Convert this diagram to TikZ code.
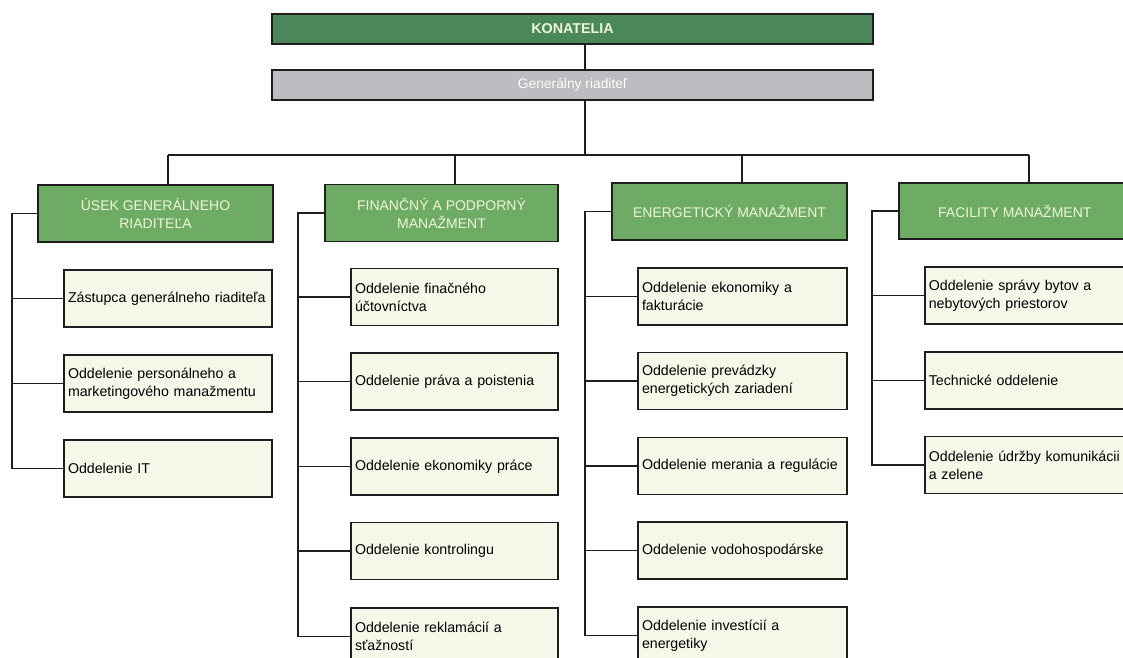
\documentclass[tikz,border=0pt]{standalone}
\usepackage{fontspec}
\setmainfont{Liberation Sans}
\definecolor{kongreen}{RGB}{74,136,92}
\definecolor{hdgreen}{RGB}{110,172,102}
\definecolor{gengray}{RGB}{188,188,193}
\definecolor{childfill}{RGB}{246,247,233}
\definecolor{hdtext}{RGB}{238,246,214}
\definecolor{linec}{RGB}{30,30,30}
\tikzset{
  topbox/.style={draw=linec, line width=1.6pt, minimum height=30, minimum width=601, inner sep=0pt},
  hdbox/.style={draw=linec, line width=1.6pt, fill=hdgreen, text=hdtext, minimum height=57, inner sep=0pt, align=center, font=\fontsize{14}{18}\selectfont},
  chbox/.style={draw=linec, line width=1.6pt, fill=childfill, text=black, minimum height=57, inner xsep=4pt, inner ysep=0pt, align=left, font=\fontsize{14.2}{18}\selectfont},
  conn/.style={draw=linec, line width=1.6pt}
}
\begin{document}
\begin{tikzpicture}[x=1pt,y=-1pt]
\clip (0,0) rectangle (1123,657);
\fill[white] (0,0) rectangle (1123,657);
% top boxes
\node[topbox, fill=kongreen, text=hdtext, font=\fontsize{14.3}{16}\bfseries\selectfont] (kon) at (572.5,29) {KONATELIA};
\node[topbox, fill=gengray, text=white, font=\fontsize{13.8}{16}\selectfont] (gen) at (572.5,85) {Generálny riaditeľ};
\coordinate (spine) at (585,0);
\coordinate (b1) at (168,155);
\coordinate (b2) at (455,155);
\coordinate (b3) at (742,155);
\coordinate (b4) at (1029,155);
% group headers
\node[hdbox, minimum width=235] (uh) at (155.5,213.5) {ÚSEK GENERÁLNEHO\\RIADITEĽA};
\node[hdbox, minimum width=233] (fh) at (441.5,213) {FINANČNÝ A PODPORNÝ\\MANAŽMENT};
\node[hdbox, minimum width=235] (eh) at (729.5,211.5) {ENERGETICKÝ MANAŽMENT};
\node[hdbox, minimum width=240, minimum height=56, anchor=west] (ch) at (898,211) {\hspace*{-8pt}FACILITY MANAŽMENT};
% Usek children
\node[chbox, minimum width=208, text width=200] (u1) at (168,298.5) {Zástupca generálneho riaditeľa};
\node[chbox, minimum width=208, text width=200] (u2) at (168,383.5) {Oddelenie personálneho a\\marketingového manažmentu};
\node[chbox, minimum width=208, text width=200] (u3) at (168,468.5) {Oddelenie IT};
% Financny children
\node[chbox, minimum width=207, text width=199] (f1) at (454.5,297) {Oddelenie finačného\\účtovníctva};
\node[chbox, minimum width=207, text width=199] (f2) at (454.5,381.5) {Oddelenie práva a poistenia};
\node[chbox, minimum width=207, text width=199] (f3) at (454.5,466.5) {Oddelenie ekonomiky práce};
\node[chbox, minimum width=207, text width=199] (f4) at (454.5,551) {Oddelenie kontrolingu};
\node[chbox, minimum width=207, text width=199] (f5) at (454.5,636.5) {Oddelenie reklamácií a\\sťažností};
% Energeticky children
\node[chbox, minimum width=209, text width=201] (e1) at (742.5,296.5) {Oddelenie ekonomiky a\\fakturácie};
\node[chbox, minimum width=209, text width=201] (e2) at (742.5,381) {Oddelenie prevádzky\\energetických zariadení};
\node[chbox, minimum width=209, text width=201] (e3) at (742.5,466) {Oddelenie merania a regulácie};
\node[chbox, minimum width=209, text width=201] (e4) at (742.5,550.5) {Oddelenie vodohospodárske};
\node[chbox, minimum width=209, text width=201] (e5) at (742.5,635.5) {Oddelenie investícií a\\energetiky};
% Facility children
\node[chbox, minimum width=230, text width=222, anchor=west] (c1) at (924,295.5) {Oddelenie správy bytov a\\nebytových priestorov};
\node[chbox, minimum width=230, text width=222, anchor=west] (c2) at (924,380.5) {Technické oddelenie};
\node[chbox, minimum width=230, text width=222, anchor=west] (c3) at (924,465) {Oddelenie údržby komunikácii\\a zelene};
% bus coordinates
\coordinate (ub) at (12,0);
\coordinate (fb) at (298,0);
\coordinate (eb) at (585,0);
\coordinate (cb) at (872,0);
% top connectors
\draw[conn] (spine |- kon.south) -- (spine |- gen.north);
\draw[conn] (spine |- gen.south) -- (spine |- b1);
\draw[conn] (b1) -- (b4);
\draw[conn] (b1) -- (b1 |- uh.north);
\draw[conn] (b2) -- (b2 |- fh.north);
\draw[conn] (b3) -- (b3 |- eh.north);
\draw[conn] (b4) -- (b4 |- ch.north);
% Usek connectors
\draw[conn] (uh.west) -- (uh.west -| ub) |- (u3.west);
\draw[conn] (u1.west -| ub) -- (u1.west);
\draw[conn] (u2.west -| ub) -- (u2.west);
% Financny connectors
\draw[conn] (fh.west) -- (fh.west -| fb) |- (f5.west);
\draw[conn] (f1.west -| fb) -- (f1.west);
\draw[conn] (f2.west -| fb) -- (f2.west);
\draw[conn] (f3.west -| fb) -- (f3.west);
\draw[conn] (f4.west -| fb) -- (f4.west);
% Energeticky connectors
\draw[conn] (eh.west) -- (eh.west -| eb) |- (e5.west);
\draw[conn] (e1.west -| eb) -- (e1.west);
\draw[conn] (e2.west -| eb) -- (e2.west);
\draw[conn] (e3.west -| eb) -- (e3.west);
\draw[conn] (e4.west -| eb) -- (e4.west);
% Facility connectors
\draw[conn] (ch.west) -- (ch.west -| cb) |- (c3.west);
\draw[conn] (c1.west -| cb) -- (c1.west);
\draw[conn] (c2.west -| cb) -- (c2.west);
\end{tikzpicture}
\end{document}
